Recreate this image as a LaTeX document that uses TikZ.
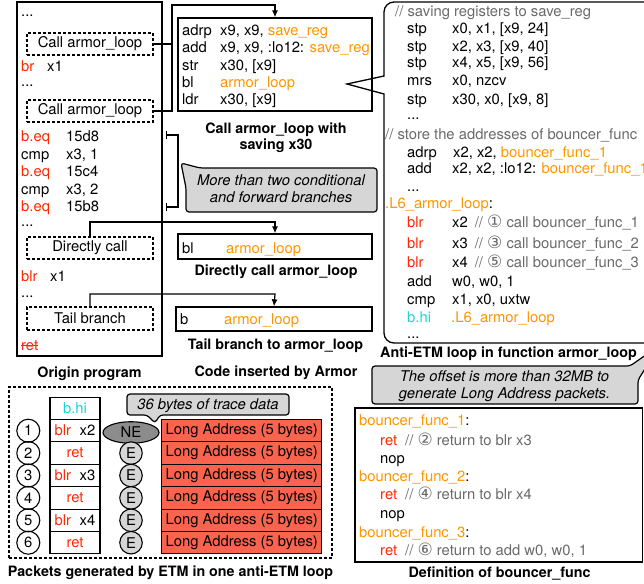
\documentclass[tikz,border=0pt]{standalone}
\usepackage{fontspec}
\setmainfont{TeX Gyre Heros}
\newfontfamily\circfont{DejaVu Sans}
\usepackage{tikz}
\usetikzlibrary{shapes,arrows,arrows.meta}
\usetikzlibrary{positioning}

\definecolor{armorange}{RGB}{255,149,0}
\definecolor{insred}{RGB}{255,38,0}
\definecolor{hicyan}{RGB}{30,212,212}
\definecolor{cmtgray}{RGB}{105,105,105}
\definecolor{notefill}{RGB}{214,214,214}
\definecolor{addrred}{RGB}{250,100,78}
\definecolor{nefill}{RGB}{140,140,140}

\newcommand\codesize{\fontsize{14.8}{17}\selectfont}
\newcommand\capsize{\fontsize{14.3}{17}\selectfont\bfseries}
\newcommand\tabto[2]{\makebox[#1][l]{#2}}
\newcommand\hlorange[1]{\textcolor{armorange}{#1}}
\newcommand\hlred[1]{\textcolor{insred}{#1}}
\newcommand\hlgray[1]{\textcolor{cmtgray}{#1}}
\newcommand\hlcyan[1]{\textcolor{hicyan}{#1}}
\newcommand\circnum[1]{{\circfont\fontsize{17}{17}\selectfont #1}}

\begin{document}
\begin{tikzpicture}[x=1pt,y=-1pt,
  boxline/.style={line width=1.3pt},
  code/.style={anchor=base west,inner sep=0pt,font=\codesize},
  captext/.style={anchor=base,inner sep=0pt,font=\capsize},
  callbox/.style={draw,line width=1.3pt,dash pattern=on 3pt off 2pt,minimum width=126pt,minimum height=22pt,inner sep=0pt,font=\codesize},
  dashbox/.style={draw,line width=1.3pt,dash pattern=on 3pt off 2pt,inner sep=0pt},
  codebox/.style={draw,line width=1.3pt,inner sep=0pt},
  conn/.style={line width=1.2pt,-{Latex[length=7pt,width=6pt]}},
  note/.style={draw,line width=1.2pt,fill=notefill,rounded corners=3pt},
  notetext/.style={align=center,inner sep=0pt,font=\codesize\itshape},
  cell/.style={draw,line width=1.1pt,minimum width=50pt,minimum height=22.4pt,inner sep=0pt,font=\codesize},
  addr/.style={draw,line width=1.1pt,fill=addrred,minimum width=160pt,minimum height=22.4pt,inner sep=0pt,font=\codesize},
  num/.style={circle,draw,line width=1.1pt,minimum size=23pt,inner sep=0pt,font=\codesize},
  ecirc/.style={circle,draw,line width=1.1pt,fill=notefill,minimum size=22.5pt,inner sep=0pt,font=\codesize}]

\useasboundingbox (0,0) rectangle (644,583);
\clip (0,0) rectangle (644,583);

% origin program
\node[codebox,minimum width=145pt,minimum height=354pt] (origin) at (89.5,179) {};
\node[code] (o1) at (21,17) {...};
\node[callbox] (call1) at (90,44) {Call armor\_loop};
\node[code] (o2) at (21,72) {\tabto{26pt}{\hlred{br}}x1};
\node[code] (o3) at (21,87) {...};
\node[callbox] (call2) at (90,111) {Call armor\_loop};
\node[code] (o4) at (21,141) {\tabto{45pt}{\hlred{b.eq}}15d8};
\node[code] (o5) at (21,159) {\tabto{45pt}{cmp}x3, 1};
\node[code] (o6) at (21,176) {\tabto{45pt}{\hlred{b.eq}}15c4};
\node[code] (o7) at (21,194) {\tabto{45pt}{cmp}x3, 2};
\node[code] (o8) at (21,211) {\tabto{45pt}{\hlred{b.eq}}15b8};
\node[code] (o9) at (21,226) {...};
\node[callbox] (direct) at (90,248) {Directly call};
\node[code] (o10) at (21,281) {\tabto{29pt}{\hlred{blr}}x1};
\node[code] (o11) at (21,297) {...};
\node[callbox,minimum height=23pt] (tail) at (90,318.5) {Tail branch};
\node[code,text=insred] (oret) at (21,350) {ret};
\draw[insred,line width=1pt] (oret.west) -- (oret.east);
\node[captext] (origincap) at (89.5,377) {Origin program};

% code inserted by armor
\node[codebox,minimum width=194pt,minimum height=93pt] (save) at (275,64.5) {};
\node[code] (s1) at (182,36) {\tabto{38pt}{adrp}x9, x9, \hlorange{save\_reg}};
\node[code] (s2) at (182,53) {\tabto{38pt}{add}x9, x9, :lo12: \hlorange{save\_reg}};
\node[code] (s3) at (182,71) {\tabto{38pt}{str}x30, [x9]};
\node[code] (s4) at (182,88) {\tabto{38pt}{bl}\hlorange{armor\_loop}};
\node[code] (s5) at (182,105) {\tabto{38pt}{ldr}x30, [x9]};
\node[captext] (savecap1) at (276,133) {Call armor\_loop with};
\node[captext] (savecap2) at (276,149) {saving x30};

\coordinate (join) at (172,5);
\draw[conn] (call1.east) -| (join) -| (save.north);
\draw[line width=1.2pt] (call2.east) -| (join);

\coordinate (brtop) at (166,135);
\coordinate (brbot) at (166,207);
\draw[line width=1.2pt,|-|] (brtop) -- ++(12,0) |- (brbot);

\draw[note] (181,163) -- (200,168) -- (377,168) -- (377,212) -- (186,212) -- (186,188) -- cycle;
\node[notetext,anchor=north] (branchnote) at (281,174.5) {More than two conditional\\and forward branches};

\node[codebox,minimum width=194pt,minimum height=25pt] (blbox) at (275,246.5) {};
\node[code] (d1) at (182,253) {\tabto{44pt}{bl}\hlorange{armor\_loop}};
\node[captext] (blcap) at (276,275) {Directly call armor\_loop};
\coordinate (dturn) at (275,222);
\draw[conn] (direct.north) |- (dturn) -- (blbox.north);

\node[codebox,minimum width=196pt,minimum height=24pt] (bbox) at (274,319) {};
\node[code] (t1) at (180,324) {\tabto{44pt}{b}\hlorange{armor\_loop}};
\node[captext] (bcap) at (275.5,349) {Tail branch to armor\_loop};
\coordinate (tturn) at (275,294);
\draw[conn] (tail.north) |- (tturn) -- (bbox.north);

\node[captext] (armorcap) at (276,376) {Code inserted by Armor};

% anti-ETM loop
\draw[boxline] (384,94) -- (347,84) -- (384,76) [rounded corners=10pt] -- (384,2) -- (700,2) -- (700,343) -- (384,343) [sharp corners] -- cycle;
\node[code,text=cmtgray] (r0) at (395,17) {// saving registers to save\_reg};
\node[code] (r1) at (407,34) {\tabto{45pt}{stp}x0, x1, [x9, 24]};
\node[code] (r2) at (407,52) {\tabto{45pt}{stp}x2, x3, [x9, 40]};
\node[code] (r3) at (407,68) {\tabto{45pt}{stp}x4, x5, [x9, 56]};
\node[code] (r4) at (407,86) {\tabto{45pt}{mrs}x0, nzcv};
\node[code] (r5) at (407,104) {\tabto{45pt}{stp}x30, x0, [x9, 8]};
\node[code] (r6) at (407,119) {...};
\node[code,text=cmtgray] (r7) at (385,139) {// store the addresses of bouncer\_func};
\node[code] (r8) at (407,157) {\tabto{46pt}{adrp}x2, x2, \hlorange{bouncer\_func\_1}};
\node[code] (r9) at (407,173) {\tabto{45pt}{add}x2, x2, :lo12: \hlorange{bouncer\_func\_1}};
\node[code] (r10) at (407,191) {...};
\node[code] (r11) at (385,208) {\hlorange{.L6\_armor\_loop}:};
\node[code] (r12) at (407,227) {\tabto{45pt}{\hlred{blr}}x2\hspace{7pt}\hlgray{// \circnum{①} call bouncer\_func\_1}};
\node[code] (r13) at (407,248) {\tabto{45pt}{\hlred{blr}}x3\hspace{7pt}\hlgray{// \circnum{③} call bouncer\_func\_2}};
\node[code] (r14) at (407,267) {\tabto{45pt}{\hlred{blr}}x4\hspace{7pt}\hlgray{// \circnum{⑤} call bouncer\_func\_3}};
\node[code] (r15) at (407,286) {\tabto{45pt}{add}w0, w0, 1};
\node[code] (r16) at (407,304) {\tabto{45pt}{cmp}x1, x0, uxtw};
\node[code] (r17) at (407,322) {\tabto{44pt}{\hlcyan{b.hi}}\hlorange{.L6\_armor\_loop}};
\node[code] (r18) at (407,338) {...};
\node[captext] (loopcap) at (508.5,357) {Anti-ETM loop in function armor\_loop};

\draw[note] (660,345) -- (638,380) -- (638,404) -- (372,404) -- (372,366) -- (630,366) -- cycle;
\node[notetext,anchor=north] (offsetnote) at (504.5,370.5) {The offset is more than 32MB to\\generate Long Address packets.};

% bouncer functions
\node[codebox,minimum width=287.5pt,minimum height=154pt] (defbox) at (498.75,485) {};
\node[code] (b1) at (359,425) {\hlorange{bouncer\_func\_1}:};
\node[code] (b2) at (380,445) {\tabto{25pt}{\hlred{ret}}\hlgray{// \circnum{②} return to blr x3}};
\node[code] (b3) at (380,463) {nop};
\node[code] (b4) at (359,481) {\hlorange{bouncer\_func\_2}:};
\node[code] (b5) at (380,499) {\tabto{25pt}{\hlred{ret}}\hlgray{// \circnum{④} return to blr x4}};
\node[code] (b6) at (380,518) {nop};
\node[code] (b7) at (359,537) {\hlorange{bouncer\_func\_3}:};
\node[code] (b8) at (380,555) {\tabto{25pt}{\hlred{ret}}\hlgray{// \circnum{⑥} return to add w0, w0, 1}};
\node[captext] (defcap) at (499.5,577) {Definition of bouncer\_func};

% packets
\node[dashbox,minimum width=323pt,minimum height=171pt] (packets) at (170.5,472.5) {};

\node[num] (n1) at (28.3,430.7) {1};
\node[num] (n2) at (28.3,453.1) {2};
\node[num] (n3) at (28.3,475.5) {3};
\node[num] (n4) at (28.3,497.9) {4};
\node[num] (n5) at (28.3,520.3) {5};
\node[num] (n6) at (28.3,542.7) {6};

\node[cell] (i0) at (75,408.3) {\hlcyan{b.hi}};
\node[cell] (i1) at (75,430.7) {\hlred{blr}\hspace{8.6pt}x2};
\node[cell] (i2) at (75,453.1) {\hlred{ret}};
\node[cell] (i3) at (75,475.5) {\hlred{blr}\hspace{8.6pt}x3};
\node[cell] (i4) at (75,497.9) {\hlred{ret}};
\node[cell] (i5) at (75,520.3) {\hlred{blr}\hspace{8.6pt}x4};
\node[cell] (i6) at (75,542.7) {\hlred{ret}};

\node[ellipse,draw,line width=1.1pt,fill=nefill,minimum width=56pt,minimum height=21.6pt,inner sep=0pt,font=\codesize] (ne) at (131,432.5) {NE};
\node[ecirc] (e2) at (131,453.1) {E};
\node[ecirc] (e3) at (131,475.5) {E};
\node[ecirc] (e4) at (131,497.9) {E};
\node[ecirc] (e5) at (131,520.3) {E};
\node[ecirc] (e6) at (131,542.7) {E};

\node[addr] (a1) at (241.7,430.7) {Long Address (5 bytes)};
\node[addr] (a2) at (241.7,453.1) {Long Address (5 bytes)};
\node[addr] (a3) at (241.7,475.5) {Long Address (5 bytes)};
\node[addr] (a4) at (241.7,497.9) {Long Address (5 bytes)};
\node[addr] (a5) at (241.7,520.3) {Long Address (5 bytes)};
\node[addr] (a6) at (241.7,542.7) {Long Address (5 bytes)};

\draw[note] (155,423) -- (147,415) -- (127,415) -- (127,394) -- (289,394) -- (289,415) -- (160,415) -- cycle;
\node[notetext,anchor=base] (tracenote) at (208,409.5) {36 bytes of trace data};

\node[captext] (packetcap) at (170.5,576) {Packets generated by ETM in one anti-ETM loop};

\end{tikzpicture}
\end{document}
